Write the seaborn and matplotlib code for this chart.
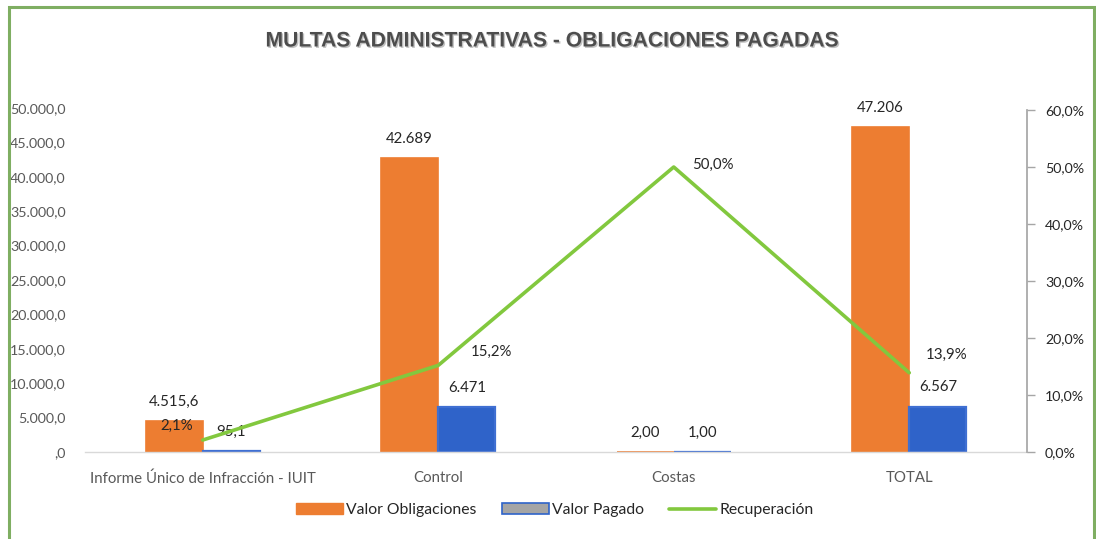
import matplotlib
matplotlib.use("Agg")
import matplotlib.pyplot as plt
import matplotlib.patches as mpatches
import matplotlib.lines as mlines
import matplotlib.patheffects as pe
from matplotlib.ticker import FuncFormatter
import seaborn as sns
import pandas as pd

# ---- data ----
categories = ["Informe Único de Infracción - IUIT", "Control", "Costas", "TOTAL"]
valor_obligaciones = [4515.6, 42689, 2.00, 47206]
valor_pagado = [95.1, 6471, 1.00, 6567]
recuperacion = [2.1, 15.2, 50.0, 13.9]
obl_labels = ["4.515,6", "42.689", "2,00", "47.206"]
pag_labels = ["95,1", "6.471", "1,00", "6.567"]
rec_labels = ["2,1%", "15,2%", "50,0%", "13,9%"]
series_names = ["Valor Obligaciones", "Valor Pagado", "Recuperación"]
title = "MULTAS ADMINISTRATIVAS - OBLIGACIONES PAGADAS"

# ---- style ----
ORANGE = "#ED7D31"
BLUE = "#2F63C9"
BLUE_EDGE = "#3F6FD2"
GREEN = "#82C83E"
GRAY_TXT = "#595959"
DARK_TXT = "#262626"
rec_offsets = [(-26, 14), (53, 13), (39, 2), (37, 18)]

sns.set_theme(style="white")
plt.rcParams["font.family"] = ["Lato", "DejaVu Sans"]

df = pd.DataFrame({
    "cat": categories * 2,
    "val": valor_obligaciones + valor_pagado,
    "serie": [series_names[0]] * 4 + [series_names[1]] * 4,
})

fig = plt.figure(figsize=(10.96, 5.39), dpi=100)
ax = fig.add_axes([85 / 1096, 87 / 539, (1027 - 85) / 1096, (452 - 108) / 539])

sns.barplot(data=df, x="cat", y="val", hue="serie", order=categories,
            hue_order=series_names[:2], palette=[ORANGE, BLUE], width=0.486,
            ax=ax, legend=False, saturation=1, linewidth=1.2)
for i, p in enumerate(ax.patches):
    p.set_edgecolor(BLUE_EDGE if i >= 4 else ORANGE)
    if i >= 4:
        p.set_linewidth(1.6)

ax.set_xlim(-0.5, 3.5)
ax.set_ylim(0, 50000)
ax.set_yticks(range(0, 50001, 5000))
ax.yaxis.set_major_formatter(FuncFormatter(
    lambda v, _: ",0" if v == 0 else f"{v:,.1f}".replace(",", "X").replace(".", ",").replace("X", ".")))
ax.set_xlabel("")
ax.set_ylabel("")
for s in ["top", "left", "right"]:
    ax.spines[s].set_visible(False)
ax.spines["bottom"].set_color("#D9D9D9")
ax.spines["bottom"].set_linewidth(1)
ax.tick_params(axis="y", length=0, pad=14, labelsize=10.3, labelcolor=GRAY_TXT)
ax.tick_params(axis="x", length=0, pad=14, labelsize=10.8, labelcolor=GRAY_TXT)

# bar labels
obl_bars = ax.patches[:4]
pag_bars = ax.patches[4:8]
for bars, labs in ((obl_bars, obl_labels), (pag_bars, pag_labels)):
    for b, lab in zip(bars, labs):
        ax.annotate(lab, (b.get_x() + b.get_width() / 2, b.get_height()),
                    xytext=(0, 9), textcoords="offset points", ha="center",
                    va="bottom", fontsize=10.8, color=DARK_TXT)

# line on secondary axis
ax2 = ax.twinx()
ldf = pd.DataFrame({"cat": range(len(categories)), "rec": recuperacion})
sns.lineplot(data=ldf, x="cat", y="rec", color=GREEN, linewidth=2.6, ax=ax2)
ax2.set_xlim(-0.5, 3.5)
ax2.set_ylim(0, 60 * 344 / 342)
ax2.set_yticks(range(0, 61, 10))
ax2.yaxis.set_major_formatter(FuncFormatter(lambda v, _: f"{v:.1f}%".replace(".", ",")))
ax2.set_ylabel("")
ax2.set_xlabel("")
for s in ["top", "left", "bottom"]:
    ax2.spines[s].set_visible(False)
ax2.spines["right"].set_color("#A6A6A6")
ax2.spines["right"].set_bounds(0, 60)
ax2.tick_params(axis="y", direction="out", length=6, width=1, color="#A6A6A6",
                pad=7, labelsize=10.2, labelcolor=DARK_TXT, right=True)
for i, (v, lab) in enumerate(zip(recuperacion, rec_labels)):
    dx, dy = rec_offsets[i]
    ax2.annotate(lab, (i, v), xytext=(dx * 0.72, dy * 0.72), textcoords="offset points",
                 ha="center", va="center", fontsize=10.8, color=DARK_TXT)

# title
fig.text(552 / 1096, 1 - 41 / 539, title, ha="center", va="center",
         fontsize=15.2, fontweight="bold", color="#4D4D4D",
         family=["Liberation Sans Narrow", "Liberation Sans", "DejaVu Sans"],
         fontstretch="condensed",
         path_effects=[pe.withSimplePatchShadow(offset=(1, -1), shadow_rgbFace="#999999", alpha=0.6)])

# legend
handles = [
    mpatches.Patch(facecolor=ORANGE, edgecolor=ORANGE, label=series_names[0]),
    mpatches.Patch(facecolor="#A5A5A5", edgecolor=BLUE, linewidth=1.2, label=series_names[1]),
    mlines.Line2D([], [], color=GREEN, linewidth=2.6, label=series_names[2]),
]
fig.legend(handles=handles, loc="center", bbox_to_anchor=(555 / 1096, 1 - 510 / 539),
           ncol=3, frameon=False, fontsize=11.3, handlelength=3.0, handleheight=0.7,
           handletextpad=0.2, columnspacing=1.6, labelcolor=DARK_TXT)

# figure border
border = mpatches.Rectangle((8.5 / 1096, -0.02), (1094 - 8.5) / 1096, 1 - 7 / 539 + 0.02,
                            transform=fig.transFigure, fill=False,
                            edgecolor="#7FAE62", linewidth=2.2, clip_on=False)
fig.patches.append(border)

fig.savefig("out.png", dpi=100)
